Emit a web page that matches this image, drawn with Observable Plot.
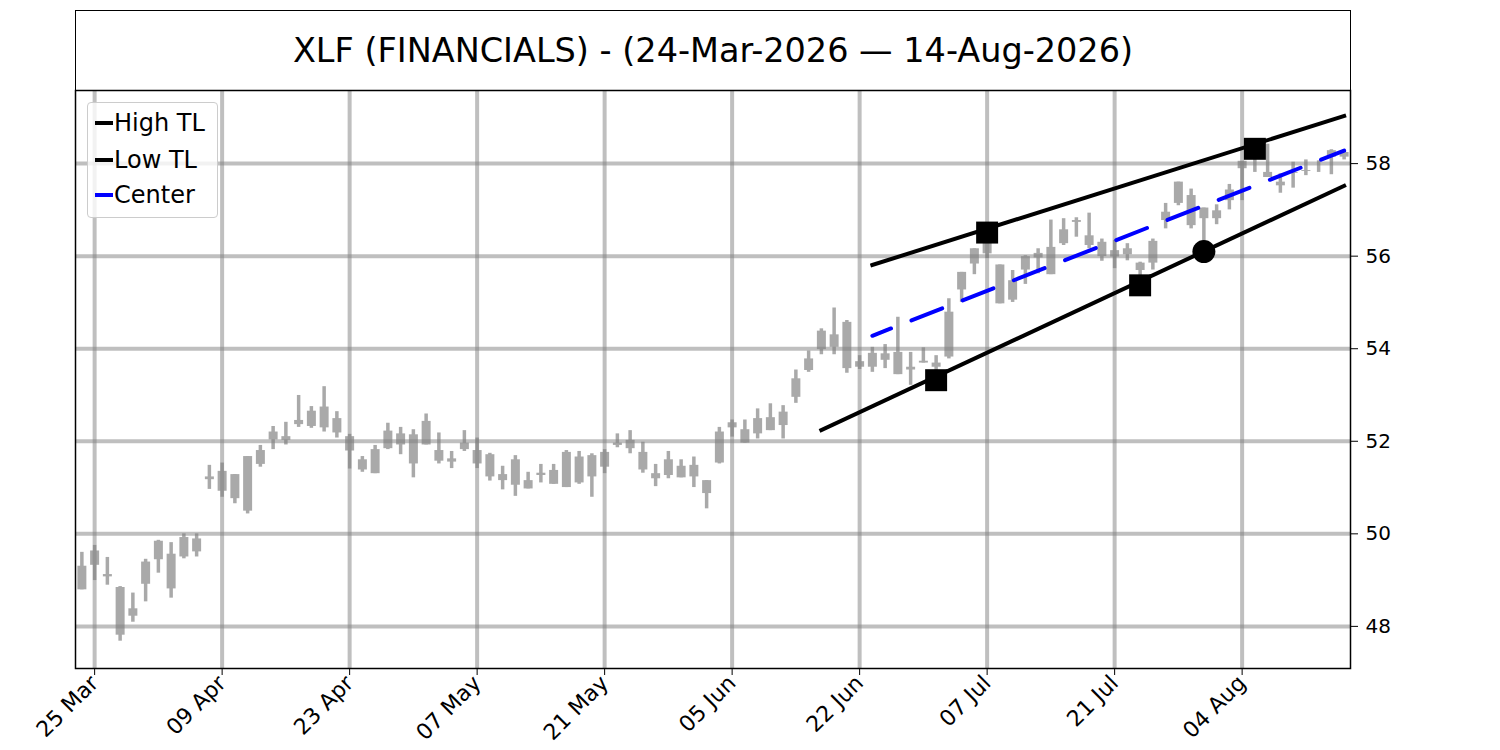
<!DOCTYPE html>
<html><head><meta charset="utf-8">
<script src="https://cdn.jsdelivr.net/npm/d3@7"></script>
<script src="https://cdn.jsdelivr.net/npm/@observablehq/plot@0.6"></script>
<style>
body{margin:0;background:#fff;font-family:"DejaVu Sans",sans-serif;}
#wrap{position:relative;width:1500px;height:750px;overflow:hidden;}
#title{position:absolute;left:75px;top:10px;width:1276px;height:81px;box-sizing:border-box;border:1.5px solid #000;display:flex;align-items:center;justify-content:center;font-size:33.5px;padding-bottom:1px;color:#000;}
#chart{position:absolute;left:0;top:90px;}
#legend{position:absolute;left:87px;top:102px;width:131px;height:116px;box-sizing:border-box;border:1px solid #cccccc;border-radius:4px;background:rgba(255,255,255,0.8);}
.item{position:absolute;left:26px;font-size:24px;line-height:24px;white-space:nowrap;color:#000;}
.sw{position:absolute;left:-19px;top:10px;width:18px;height:4px;}
</style></head>
<body><div id="wrap">
<div id="title">XLF (FINANCIALS) - (24-Mar-2026 — 14-Aug-2026)</div>
<div id="chart"></div>
<div id="legend">
  <div class="item" style="top:8px"><span class="sw" style="background:#000"></span>High TL</div>
  <div class="item" style="top:45px"><span class="sw" style="background:#000"></span>Low TL</div>
  <div class="item" style="top:80px"><span class="sw" style="background:#0000ff"></span>Center</div>
</div>
</div>
<script>
// OHLC per trading day (index 0 = 24-Mar-2026 ... index 99 = 14-Aug-2026)
const open = [48.79,49.32,49.12,48.84,48.38,48.91,49.44,49.56,49.50,49.61,
  51.17,51.35,51.28,50.49,51.50,52.03,52.10,52.36,52.32,52.29,
  52.49,52.10,51.60,51.30,51.84,52.16,52.14,51.92,51.80,51.62,
  51.82,51.80,51.71,51.28,51.05,51.15,51.26,51.37,51.00,51.66,
  51.23,51.44,51.91,51.84,51.76,51.30,51.26,51.46,51.48,51.15,
  51.53,52.29,52.25,52.16,52.23,52.34,52.95,53.53,53.98,54.30,
  54.57,53.72,53.60,53.75,53.92,53.60,53.69,53.60,53.82,55.27,
  55.83,56.05,55.81,55.05,55.70,55.96,55.60,56.27,56.77,56.44,
  56.30,56.12,56.03,55.85,55.85,56.77,57.14,57.31,57.04,56.81,
  57.20,58.05,58.42,57.70,57.52,57.79,57.85,57.99,58.14,58.24];
const close = [49.30,49.63,49.07,47.81,48.22,49.39,49.84,48.81,49.92,49.89,
  51.23,50.92,50.76,51.67,51.80,52.20,52.02,52.45,52.65,52.74,
  52.18,51.79,51.38,51.82,52.22,51.92,51.51,52.43,51.57,51.55,
  51.96,51.51,51.23,51.15,51.60,50.97,51.31,51.07,51.76,51.10,
  51.69,51.76,51.96,52.02,51.38,51.19,51.60,51.21,51.23,50.87,
  52.20,52.40,51.96,52.49,52.51,52.63,53.35,53.78,54.38,54.03,
  53.57,53.60,53.90,53.89,53.44,53.54,53.73,53.69,54.79,55.65,
  56.16,56.40,54.97,55.47,55.99,56.06,56.19,56.57,56.73,56.23,
  55.99,55.98,56.16,55.69,56.32,56.95,57.60,56.66,56.81,56.98,
  57.43,57.89,58.20,57.81,57.60,57.81,57.83,57.99,58.28,58.14];
const high = [49.60,49.75,49.49,48.86,48.72,49.45,49.86,49.81,50.00,50.00,
  51.48,51.53,51.28,51.67,51.91,52.32,52.41,52.99,52.75,53.18,
  52.64,52.15,51.67,51.91,52.39,52.30,52.25,52.59,52.18,51.78,
  52.23,52.07,51.74,51.46,51.69,51.33,51.50,51.50,51.80,51.78,
  51.73,51.82,52.16,52.23,51.98,51.50,51.78,51.60,51.66,51.15,
  52.30,52.46,52.46,52.70,52.81,52.77,53.54,53.95,54.43,54.88,
  54.61,53.85,54.03,54.09,54.68,53.92,54.02,53.85,55.08,55.65,
  56.16,56.51,55.81,55.69,56.01,56.16,56.78,56.81,56.83,56.93,
  56.37,56.34,56.27,55.87,56.37,57.14,57.60,57.45,57.04,57.11,
  57.55,57.95,58.32,58.42,57.78,58.03,58.08,58.06,58.30,58.30];
const low = [48.79,48.99,48.89,47.68,48.09,48.53,49.15,48.61,49.46,49.50,
  50.96,50.79,50.65,50.43,51.44,51.82,51.92,52.30,52.28,52.20,
  52.07,51.40,51.33,51.30,51.82,51.71,51.21,51.92,51.51,51.41,
  51.78,51.41,51.14,50.95,50.81,50.97,51.10,51.07,51.00,51.07,
  50.79,51.30,51.86,51.73,51.31,51.02,51.19,51.21,51.00,50.54,
  51.51,52.09,51.96,52.05,52.23,52.05,52.82,53.49,53.87,53.87,
  53.47,53.55,53.49,53.57,53.44,53.21,53.69,53.50,53.78,55.00,
  55.60,55.95,54.97,55.00,55.39,55.62,55.60,56.23,56.41,56.16,
  55.89,55.73,55.90,55.37,55.70,56.59,57.09,56.59,56.10,56.68,
  57.00,57.20,57.81,57.78,57.36,57.47,57.74,57.81,57.76,58.08];

const tickIndex = [1,11,21,31,41,51,61,71,81,91];
const tickLabels = ["25 Mar","09 Apr","23 Apr","07 May","21 May","05 Jun","22 Jun","07 Jul","21 Jul","04 Aug"];
const yTicks = [48,50,52,54,56,58];

const highTLIndex = [62,99], highTLValue = [55.81,59.03];
const lowTLIndex = [58,99], lowTLValue = [52.24,57.52];
const centerIndex = [62,99], centerValue = [54.28,58.28];
const squareIndex = [67,71,83,92], squareValue = [53.32,56.51,55.37,58.32];
const circleIndex = [88], circleValue = [56.10];

const candles = open.map((o,i)=>({i, open:o, close:close[i], high:high[i], low:low[i]}));
const pts = (ix, vs) => ix.map((x,k)=>({x, y:vs[k]}));

const chart = Plot.plot({
  width:1500, height:660,
  marginTop:0, marginBottom:82, marginLeft:75, marginRight:150,
  style:{fontFamily:"DejaVu Sans", fontSize:"20px", color:"#000", background:"transparent", overflow:"visible"},
  x:{domain:[-0.5,99.5], axis:null},
  y:{domain:[47.09,59.58], axis:null},
  marks:[
    Plot.ruleX(candles,{x:"i", y1:"low", y2:"high", stroke:"#a9a9a9", strokeWidth:3.5}),
    Plot.ruleX(candles,{x:"i", y1:"open", y2:"close", stroke:"#a9a9a9", strokeWidth:9}),
    Plot.ruleY(yTicks,{stroke:"#808080", strokeOpacity:0.5, strokeWidth:4}),
    Plot.ruleX(tickIndex,{stroke:"#808080", strokeOpacity:0.5, strokeWidth:4}),
    Plot.line(pts(highTLIndex,highTLValue),{x:"x", y:"y", stroke:"#000", strokeWidth:4, strokeLinecap:"square"}),
    Plot.line(pts(lowTLIndex,lowTLValue),{x:"x", y:"y", stroke:"#000", strokeWidth:4, strokeLinecap:"square"}),
    Plot.line(pts(centerIndex,centerValue),{x:"x", y:"y", stroke:"#0000ff", strokeWidth:4, strokeDasharray:"33,22", strokeDashoffset:13}),
    Plot.dot(pts(squareIndex,squareValue),{x:"x", y:"y", symbol:"square", r:12.4, fill:"#000", stroke:"none"}),
    Plot.dot(pts(circleIndex,circleValue),{x:"x", y:"y", symbol:"circle", r:11.5, fill:"#000", stroke:"none"}),
    Plot.frame({stroke:"#000", strokeWidth:1.5}),
    Plot.axisX({ticks:tickIndex, tickFormat:d=>tickLabels[tickIndex.indexOf(d)], tickRotate:-45, tickSize:7, tickPadding:4, fontSize:22}),
    Plot.axisY({anchor:"right", ticks:yTicks, tickFormat:d=>String(d), tickSize:7, tickPadding:8, fontSize:20})
  ]
});
document.getElementById("chart").appendChild(chart);
</script>
</body></html>
